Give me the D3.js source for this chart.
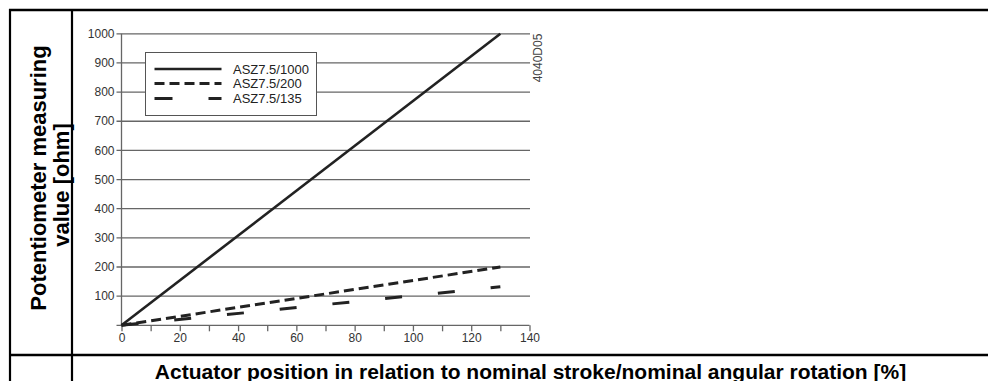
<!DOCTYPE html>
<html>
<head>
<meta charset="utf-8">
<script src="https://cdn.jsdelivr.net/npm/d3@7"></script>
<style>
  html, body { margin: 0; padding: 0; background: #fff; }
  svg { display: block; font-family: "Liberation Sans", Arial, sans-serif; }
</style>
</head>
<body>
<svg id="chart" width="988" height="381"></svg>
<script>
// ---- data ----
const positions = [0, 130];                 // actuator position [%]
const seriesNames = ["ASZ7.5/1000", "ASZ7.5/200", "ASZ7.5/135"];
const valuesASZ1000 = [0, 1000];            // ohm
const valuesASZ200 = [0, 200];
const valuesASZ135 = [0, 132];
const xTicks = [0, 10, 20, 30, 40, 50, 60, 70, 80, 90, 100, 110, 120, 130, 140];
const xTickLabels = [0, 20, 40, 60, 80, 100, 120, 140];
const yTicks = [100, 200, 300, 400, 500, 600, 700, 800, 900, 1000];
const yTitle = ["Potentiometer measuring", "value [ohm]"];
const xTitle = "Actuator position in relation to nominal stroke/nominal angular rotation [%]";
const drawingId = "4040D05";

// ---- setup ----
const svg = d3.select("#chart");
svg.append("rect").attr("width", 988).attr("height", 381).attr("fill", "#fff");

const x = d3.scaleLinear().domain([0, 140]).range([121.5, 529.5]);
const y = d3.scaleLinear().domain([0, 1000]).range([325.3, 33.8]);

const gridColor = "#666";
const labelColor = "#333";
const lineColor = "#222";

// gridlines
svg.append("g").selectAll("line").data(yTicks).join("line")
  .attr("x1", x(0) - 5).attr("x2", x(140) + 0.5)
  .attr("y1", d => y(d)).attr("y2", d => y(d))
  .attr("stroke", gridColor).attr("stroke-width", 1.3);

// y axis line
svg.append("line").attr("x1", x(0)).attr("x2", x(0))
  .attr("y1", y(0)).attr("y2", y(1000))
  .attr("stroke", gridColor).attr("stroke-width", 1.3);

// y tick labels
svg.append("g").selectAll("text").data(yTicks).join("text")
  .attr("x", x(0) - 7).attr("y", d => y(d)).attr("dy", "0.35em")
  .attr("text-anchor", "end").attr("font-size", 12).attr("fill", labelColor)
  .text(d => d);

// x axis
const xAxis = d3.axisBottom(x).tickValues(xTicks).tickSize(6).tickSizeOuter(0).tickPadding(2.5)
  .tickFormat(d => xTickLabels.includes(d) ? d : "");
const gx = svg.append("g").attr("transform", `translate(0,${y(0)})`).call(xAxis);
gx.select(".domain").attr("stroke", gridColor).attr("stroke-width", 1.3)
  .attr("d", `M${x(0) - 5},0H${x(140)}`);
gx.selectAll(".tick line").attr("stroke", gridColor).attr("stroke-width", 1.3);
gx.selectAll(".tick text").attr("font-size", 12).attr("fill", labelColor)
  .attr("font-family", "Liberation Sans, Arial, sans-serif");

// series
const series = [
  { name: seriesNames[0], values: valuesASZ1000, dash: null, width: 2.6 },
  { name: seriesNames[1], values: valuesASZ200, dash: "10,5", width: 3 },
  { name: seriesNames[2], values: valuesASZ135, dash: "17,36", width: 3 }
];
const line = d3.line().x(d => x(d[0])).y(d => y(d[1]));
series.forEach(s => {
  svg.append("path")
    .datum(positions.map((p, i) => [p, s.values[i]]))
    .attr("d", line).attr("fill", "none")
    .attr("stroke", lineColor).attr("stroke-width", s.width)
    .attr("stroke-dasharray", s.dash);
});

// legend
const lg = svg.append("g");
lg.append("rect").attr("x", 145.5).attr("y", 52.5).attr("width", 171).attr("height", 63)
  .attr("fill", "#fff").attr("stroke", "#555").attr("stroke-width", 1);
const legendRowsY = [69, 83.5, 98.5];
series.forEach((s, i) => {
  lg.append("line").attr("x1", 154.5).attr("x2", 221.5)
    .attr("y1", legendRowsY[i]).attr("y2", legendRowsY[i])
    .attr("stroke", lineColor).attr("stroke-width", s.width)
    .attr("stroke-dasharray", i === 2 ? "18,36" : s.dash);
  lg.append("text").attr("x", 233).attr("y", legendRowsY[i]).attr("dy", "0.36em")
    .attr("font-size", 13).attr("fill", lineColor).text(s.name);
});

// drawing id
svg.append("text").attr("transform", "translate(541.5,58) rotate(-90)")
  .attr("text-anchor", "middle").attr("font-size", 12).attr("fill", "#444")
  .text(drawingId);

// table frame
const frame = svg.append("g").attr("stroke", "#000");
frame.append("line").attr("x1", 9).attr("x2", 988).attr("y1", 10).attr("y2", 10).attr("stroke-width", 2.5);
frame.append("line").attr("x1", 10).attr("x2", 10).attr("y1", 9).attr("y2", 381).attr("stroke-width", 2.2);
frame.append("line").attr("x1", 72).attr("x2", 72).attr("y1", 9).attr("y2", 381).attr("stroke-width", 2.2);
frame.append("line").attr("x1", 9).attr("x2", 988).attr("y1", 355).attr("y2", 355).attr("stroke-width", 2.5);

// y title
svg.append("text").attr("transform", "translate(46,178) rotate(-90)")
  .attr("text-anchor", "middle").attr("font-size", 22).attr("font-weight", "bold").attr("fill", "#000")
  .text(yTitle[0]);
svg.append("text").attr("transform", "translate(69,185) rotate(-90)")
  .attr("text-anchor", "middle").attr("font-size", 22).attr("font-weight", "bold").attr("fill", "#000")
  .text(yTitle[1]);

// x title
svg.append("text").attr("x", 530.5).attr("y", 378.5)
  .attr("text-anchor", "middle").attr("font-size", 21).attr("font-weight", "bold").attr("fill", "#000")
  .text(xTitle);
</script>
</body>
</html>
